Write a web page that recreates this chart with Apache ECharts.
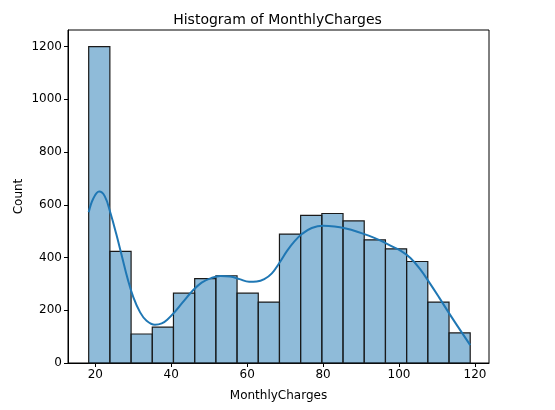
<!DOCTYPE html>
<html>
<head>
<meta charset="utf-8">
<script src="https://cdn.jsdelivr.net/npm/echarts@6/dist/echarts.min.js"></script>
<style>
  html, body { margin: 0; padding: 0; background: #fff; }
  #chart { width: 555px; height: 410px; }
</style>
</head>
<body>
<div id="chart"></div>
<script>
// bin edges and counts of the histogram
const binEdges = [18.25, 23.83, 29.42, 35.0, 40.58, 46.17, 51.75, 57.33, 62.92,
  68.5, 74.08, 79.67, 85.25, 90.83, 96.42, 102.0, 107.58, 113.17, 118.75];
const counts = [1200, 423, 110, 136, 265, 320, 331, 265, 231,
  489, 560, 567, 539, 467, 433, 385, 231, 114];

// kde curve (x, count)
const kdeX = [18.25, 19.5, 21, 22.5, 24, 25.5, 27, 28.5, 30, 31.8, 33.5, 35.7, 37.5, 39, 41,
  43, 45.5, 48, 50.5, 53, 55.5, 58, 60.5, 62.5, 64.5, 66.5, 68.5, 70.5, 72.5, 74.5,
  77, 80, 83, 86, 89, 92, 95, 98, 100.5, 103, 105.5, 108, 110.5, 113, 115.5, 118.75];
const kdeY = [572, 625, 650, 632, 568, 490, 405, 320, 250, 192, 160, 145, 150, 165, 195,
  230, 272, 305, 322, 330, 328, 318, 308, 309, 318, 340, 380, 425, 462, 490,
  512, 521, 518, 510, 498, 483, 465, 443, 425, 398, 357, 305, 250, 193, 138, 68];

const xTicks = [20, 40, 60, 80, 100, 120];
const yTicks = [0, 200, 400, 600, 800, 1000, 1200];

const chart = echarts.init(document.getElementById('chart'));

const font = 'DejaVu Sans';
const bars = counts.map((c, i) => [binEdges[i], binEdges[i + 1], c]);

const option = {
  animation: false,
  backgroundColor: '#fff',
  title: {
    text: 'Histogram of MonthlyCharges',
    left: 'center',
    top: 8,
    textStyle: { fontFamily: font, fontSize: 14, fontWeight: 'normal', color: '#000' }
  },
  grid: {
    left: 68, right: 66, top: 30, bottom: 47,
    outerBoundsMode: 'none',
    show: true, borderColor: '#000', borderWidth: 1, backgroundColor: 'transparent'
  },
  xAxis: {
    type: 'value',
    min: 12.8,
    max: 123.7,
    name: 'MonthlyCharges',
    nameLocation: 'middle',
    nameGap: 27,
    nameMoveOverlap: false,
    nameTextStyle: { fontFamily: font, fontSize: 12, color: '#000' },
    splitLine: { show: false },
    axisLine: { show: true, lineStyle: { color: '#000', width: 1 } },
    axisTick: { show: true, length: 4, customValues: xTicks, lineStyle: { color: '#000' } },
    axisLabel: { customValues: xTicks, fontFamily: font, fontSize: 12, color: '#000', margin: 6,
      formatter: v => String(v) }
  },
  yAxis: {
    type: 'value',
    min: 0,
    max: 1263,
    name: 'Count',
    nameLocation: 'middle',
    nameGap: 43,
    nameMoveOverlap: false,
    nameTextStyle: { fontFamily: font, fontSize: 12, color: '#000' },
    splitLine: { show: false },
    axisLine: { show: true, lineStyle: { color: '#000', width: 1 } },
    axisTick: { show: true, length: 4, customValues: yTicks, lineStyle: { color: '#000' } },
    axisLabel: { customValues: yTicks, fontFamily: font, fontSize: 12, color: '#000', margin: 6,
      formatter: v => String(v) }
  },
  series: [
    {
      type: 'custom',
      data: bars,
      renderItem: function (params, api) {
        const p0 = api.coord([api.value(0), api.value(2)]);
        const p1 = api.coord([api.value(1), 0]);
        return {
          type: 'rect',
          shape: { x: p0[0], y: p0[1], width: p1[0] - p0[0], height: p1[1] - p0[1] },
          style: { fill: 'rgba(31,119,180,0.5)', stroke: '#1a1a1a', lineWidth: 1.2 }
        };
      },
      encode: { x: [0, 1], y: 2 },
      z: 2
    },
    {
      type: 'line',
      data: kdeX.map((x, i) => [x, kdeY[i]]),
      smooth: 0.4,
      showSymbol: false,
      lineStyle: { color: '#1f77b4', width: 2 },
      z: 3
    }
  ]
};

chart.setOption(option);
</script>
</body>
</html>
